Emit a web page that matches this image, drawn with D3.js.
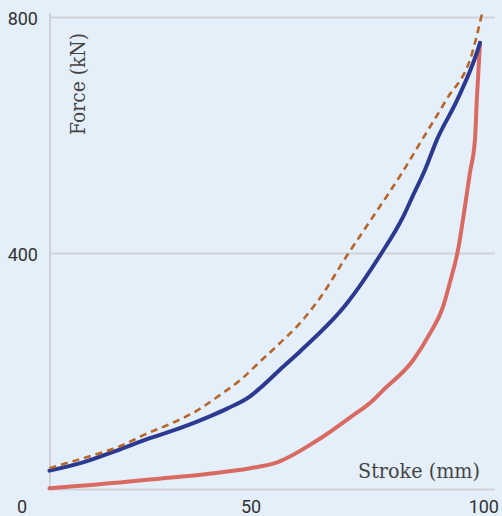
<!DOCTYPE html>
<html>
<head>
<meta charset="utf-8">
<script src="https://cdn.jsdelivr.net/npm/d3@7/dist/d3.min.js"></script>
<style>
  html, body { margin: 0; padding: 0; background: #e4eff9; }
  svg { display: block; }
</style>
</head>
<body>
<svg id="chart" width="502" height="516"></svg>
<script>
// ---- data ----
const blueStroke = [6, 13.3, 20.7, 27.9, 34.5, 41, 45, 49.8, 52, 56.3, 60.7, 71, 78.2, 83.2, 85.4, 88, 90.6, 95, 99.3, 100];
const blueForce  = [32, 46, 66, 87, 104, 124, 138, 158, 172, 203, 234, 316, 397, 462, 499, 542, 593, 660, 740, 757];

const redStroke = [6, 22.9, 27.9, 40, 49.8, 55.7, 64.4, 71.6, 76.6, 78.8, 85.4, 89.1, 91.9, 93.4, 95.2, 96.7, 97.8, 98.9, 99.3, 100];
const redForce  = [2, 13, 17, 26, 36, 46, 83, 122, 151, 168, 219, 265, 309, 350, 406, 479, 537, 593, 660, 757];

const dashStroke = [6, 13.3, 20.7, 27.9, 31.7, 38.9, 43.2, 47.6, 52, 56.3, 60.7, 65.1, 71, 76.6, 83, 86.9, 92.6, 98.3, 100.4];
const dashForce  = [36, 53, 71, 97, 109, 137, 160, 185, 217, 248, 282, 325, 397, 462, 537, 587, 660, 740, 805];

const xTicks = [0, 50, 100];
const yTicks = [400, 800];
const xTitle = "Stroke (mm)";
const yTitle = "Force (kN)";

// ---- layout ----
const W = 502, H = 516;
const plotLeft = 50, plotRight = 495;
const svg = d3.select("#chart");

const x = d3.scaleLinear().domain([0, 100]).range([22, 480]);
const y = d3.scaleLinear().domain([0, 800]).range([489.5, 17.5]);

const gridColor = "#cfd3d8";

// horizontal grid lines
svg.append("g").selectAll("line").data(yTicks).join("line")
  .attr("x1", plotLeft).attr("x2", plotRight)
  .attr("y1", d => y(d)).attr("y2", d => y(d))
  .attr("stroke", gridColor).attr("stroke-width", 2);

// baseline
svg.append("line")
  .attr("x1", plotLeft).attr("x2", plotRight)
  .attr("y1", y(0)).attr("y2", y(0))
  .attr("stroke", gridColor).attr("stroke-width", 2);

// vertical axis line
svg.append("line")
  .attr("x1", plotLeft).attr("x2", plotLeft)
  .attr("y1", y(800) - 4).attr("y2", y(0) + 1)
  .attr("stroke", gridColor).attr("stroke-width", 2);

// y tick labels
svg.append("g").selectAll("text").data(yTicks).join("text")
  .attr("x", 38).attr("y", d => y(d) + 7)
  .attr("text-anchor", "end")
  .attr("font-family", "Roboto, 'Noto Sans', sans-serif")
  .attr("font-size", 18).attr("fill", "#333")
  .text(d => d);

// x tick labels
svg.append("g").selectAll("text").data(xTicks).join("text")
  .attr("x", (d, i) => i === xTicks.length - 1 ? W - 3 : x(d))
  .attr("y", 513)
  .attr("text-anchor", (d, i) => i === xTicks.length - 1 ? "end" : "middle")
  .attr("font-family", "Roboto, 'Noto Sans', sans-serif")
  .attr("font-size", 18).attr("fill", "#333")
  .text(d => d);

// axis titles
svg.append("text")
  .attr("x", 480).attr("y", 478)
  .attr("text-anchor", "end")
  .attr("font-family", "'DejaVu Serif', serif")
  .attr("font-size", 20).attr("fill", "#444")
  .attr("textLength", 122).attr("lengthAdjust", "spacingAndGlyphs")
  .text(xTitle);

svg.append("text")
  .attr("transform", "translate(85,33) rotate(-90)")
  .attr("text-anchor", "end")
  .attr("font-family", "'DejaVu Serif', serif")
  .attr("font-size", 20).attr("fill", "#444")
  .attr("textLength", 102).attr("lengthAdjust", "spacingAndGlyphs")
  .text(yTitle);

// lines
const line = d3.line().x(d => x(d[0])).y(d => y(d[1])).curve(d3.curveMonotoneX);
const zip = (a, b) => a.map((v, i) => [v, b[i]]);

svg.append("path").datum(zip(redStroke, redForce))
  .attr("d", line).attr("fill", "none")
  .attr("stroke", "#d96a62").attr("stroke-width", 4).attr("stroke-linecap", "round");

svg.append("path").datum(zip(blueStroke, blueForce))
  .attr("d", line).attr("fill", "none")
  .attr("stroke", "#2b3990").attr("stroke-width", 4).attr("stroke-linecap", "round");

svg.append("path").datum(zip(dashStroke, dashForce))
  .attr("d", line).attr("fill", "none")
  .attr("stroke", "#b8652a").attr("stroke-width", 2.6)
  .attr("stroke-dasharray", "7,5");
</script>
</body>
</html>
